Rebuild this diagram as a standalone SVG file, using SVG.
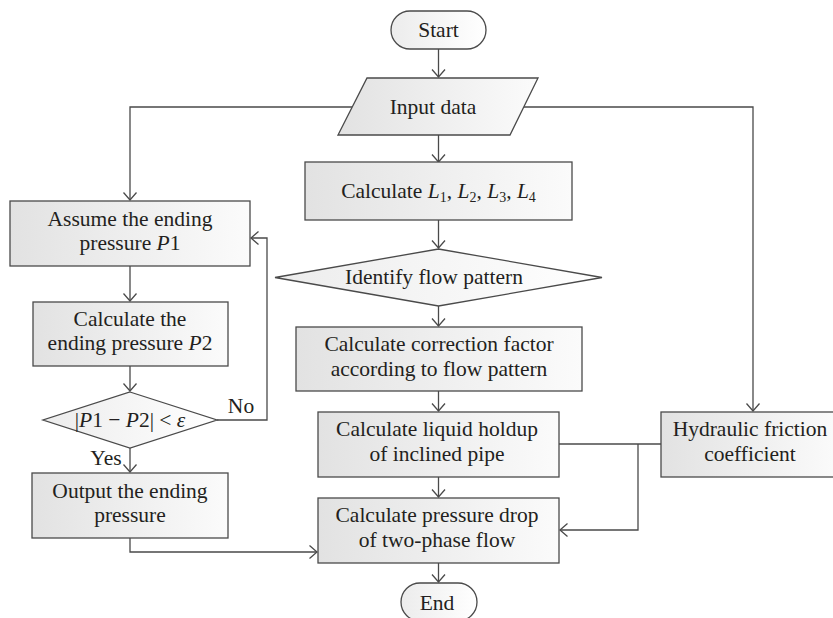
<svg xmlns="http://www.w3.org/2000/svg" width="833" height="618" viewBox="0 0 833 618">
<defs>
  <linearGradient id="g" x1="0" y1="0" x2="1" y2="0">
    <stop offset="0" stop-color="#e2e2e2"/>
    <stop offset="1" stop-color="#fbfbfb"/>
  </linearGradient>
  <linearGradient id="gl" x1="0" y1="0" x2="1" y2="0">
    <stop offset="0" stop-color="#ececec"/>
    <stop offset="1" stop-color="#ffffff"/>
  </linearGradient>
  <marker id="a" markerUnits="userSpaceOnUse" markerWidth="20" markerHeight="20" refX="0" refY="0" viewBox="-10 -10 20 20" orient="auto">
    <path d="M-7.5,-6.5 L0,0 L-7.5,6.5" fill="none" stroke="#4a4a4a" stroke-width="1.3"/>
  </marker>
</defs>
<style>
  .s { fill: url(#g); stroke: #4a4a4a; stroke-width: 1.3; }
  .t { fill: url(#gl); stroke: #4a4a4a; stroke-width: 1.3; }
  .c { fill: none; stroke: #4a4a4a; stroke-width: 1.3; }
  text { font-family: "Liberation Serif", "Times New Roman", serif; font-size: 21.5px; fill: #231f20; text-anchor: middle; }
  .i { font-style: italic; }
</style>
<rect width="833" height="618" fill="#ffffff"/>
<g id="connectors">
  <path class="c" d="M438.5,49 V77" marker-end="url(#a)"/>
  <path class="c" d="M438.5,135 V162" marker-end="url(#a)"/>
  <path class="c" d="M438.5,220 V248" marker-end="url(#a)"/>
  <path class="c" d="M438.5,306 V326" marker-end="url(#a)"/>
  <path class="c" d="M438.5,391 V411" marker-end="url(#a)"/>
  <path class="c" d="M438.5,477 V497" marker-end="url(#a)"/>
  <path class="c" d="M438.5,563 V582" marker-end="url(#a)"/>
  <path class="c" d="M352,107 H130 V200" marker-end="url(#a)"/>
  <path class="c" d="M524,107 H753 V411" marker-end="url(#a)"/>
  <path class="c" d="M130,266 V301" marker-end="url(#a)"/>
  <path class="c" d="M130,366 V391" marker-end="url(#a)"/>
  <path class="c" d="M130,448 V472" marker-end="url(#a)"/>
  <path class="c" d="M217,420 H267 V238 H251" marker-end="url(#a)"/>
  <path class="c" d="M130,538 V552 H317" marker-end="url(#a)"/>
  <path class="c" d="M661,444 H559"/>
  <path class="c" d="M638,444 V530 H560" marker-end="url(#a)"/>
  <text x="241" y="413">No</text>
  <text x="106" y="465">Yes</text>
</g>
<g id="start">
  <rect class="t" x="391" y="11" width="95" height="38" rx="19" ry="19"/>
  <text x="438.5" y="37">Start</text>
</g>
<g id="input">
  <polygon class="s" points="367,78 538,78 510,135 338,135"/>
  <text x="433" y="114">Input data</text>
</g>
<g id="calcL">
  <rect class="s" x="305" y="162" width="267" height="58"/>
  <text x="438.5" y="198">Calculate <tspan class="i">L</tspan><tspan font-size="14" dy="4">1</tspan><tspan dy="-4">, </tspan><tspan class="i">L</tspan><tspan font-size="14" dy="4">2</tspan><tspan dy="-4">, </tspan><tspan class="i">L</tspan><tspan font-size="14" dy="4">3</tspan><tspan dy="-4">, </tspan><tspan class="i">L</tspan><tspan font-size="14" dy="4">4</tspan></text>
</g>
<g id="identify">
  <polygon class="t" points="438.5,249 602,277.5 438.5,306 275,277.5"/>
  <text x="434" y="284">Identify flow pattern</text>
</g>
<g id="correction">
  <rect class="s" x="296" y="327" width="286" height="64"/>
  <text x="439" y="351">Calculate correction factor<tspan x="439" dy="25">according to flow pattern</tspan></text>
</g>
<g id="holdup">
  <rect class="s" x="318" y="412" width="241" height="65"/>
  <text x="437" y="436">Calculate liquid holdup<tspan x="437" dy="25">of inclined pipe</tspan></text>
</g>
<g id="pressuredrop">
  <rect class="s" x="318" y="498" width="241" height="65"/>
  <text x="437" y="522">Calculate pressure drop<tspan x="437" dy="25">of two-phase flow</tspan></text>
</g>
<g id="end">
  <rect class="t" x="401" y="583" width="76" height="38" rx="19" ry="19"/>
  <text x="437" y="610">End</text>
</g>
<g id="hydraulic">
  <rect class="s" x="661" y="412" width="178" height="65"/>
  <text x="750" y="436">Hydraulic friction<tspan x="750" dy="25">coefficient</tspan></text>
</g>
<g id="assume">
  <rect class="s" x="10" y="201" width="240" height="65"/>
  <text x="130" y="226">Assume the ending<tspan x="130" dy="24">pressure <tspan class="i">P</tspan>1</tspan></text>
</g>
<g id="calcP2">
  <rect class="s" x="33" y="302" width="195" height="64"/>
  <text x="130" y="326">Calculate the<tspan x="130" dy="24">ending pressure <tspan class="i">P</tspan>2</tspan></text>
</g>
<g id="check">
  <polygon class="t" points="130,392 217,420 130,448 43,420"/>
  <text x="130" y="427">|<tspan class="i">P</tspan>1 − <tspan class="i">P</tspan>2| &lt; <tspan class="i">ε</tspan></text>
</g>
<g id="output">
  <rect class="s" x="32" y="473" width="196" height="65"/>
  <text x="130" y="498">Output the ending<tspan x="130" dy="24">pressure</tspan></text>
</g>
</svg>
